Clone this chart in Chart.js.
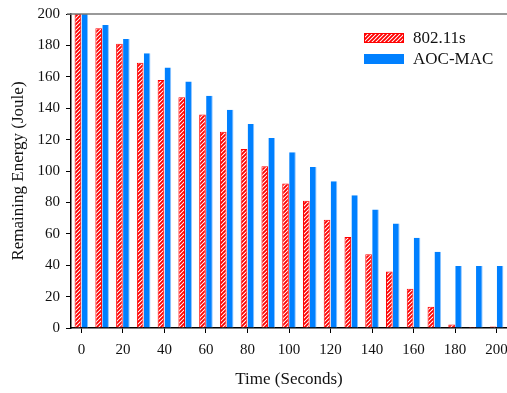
<!DOCTYPE html>
<html>
<head>
<meta charset="utf-8">
<script src="https://cdn.jsdelivr.net/npm/chart.js@4/dist/chart.umd.min.js"></script>
<style>
    html, body { margin: 0; padding: 0; background: #ffffff; }
    #wrap { width: 507px; height: 393px; position: relative; }
</style>
</head>
<body>
<div id="wrap"><canvas id="chart"></canvas></div>
<script>
// Time axis categories (seconds)
const timeLabels = [ '0', '10', '20', '30', '40', '50', '60', '70', '80', '90', '100',
    '110', '120', '130', '140', '150', '160', '170', '180', '190', '200' ];

// Remaining energy (Joule) per protocol
const energy80211s = [ 200, 191, 181, 169, 158, 147, 136, 125, 114, 103, 92,
    81, 69, 58, 47, 36, 25, 13.5, 2.3, 0.6, 1 ];
const energyAocMac = [ 200, 193, 184, 175, 166, 157, 148, 139, 130, 121, 112,
    102.5, 93.5, 84.5, 75.5, 66.5, 57.5, 48.5, 39.5, 39.5, 39.5 ];

const seriesNames = [ '802.11s', 'AOC-MAC' ];

const serif = "'Liberation Serif', 'Times New Roman', serif";
const blue = '#0080ff';
const red = '#ff0000';

// Red diagonal hatch fill
function makeHatch ()
{
    const c = document.createElement( 'canvas' );
    c.width = 4;
    c.height = 4;
    const g = c.getContext( '2d' );
    g.fillStyle = '#ffffff';
    g.fillRect( 0, 0, 4, 4 );
    g.strokeStyle = red;
    g.lineWidth = 1.9;
    g.beginPath();
    g.moveTo( -1, 5 ); g.lineTo( 5, -1 );
    g.moveTo( -1, 1 ); g.lineTo( 1, -1 );
    g.moveTo( 3, 5 ); g.lineTo( 5, 3 );
    g.stroke();
    return g.createPattern( c, 'repeat' );
}
const hatch = makeHatch();

// Frame line on top + legend inside plot area
const framePlugin = {
    id: 'frame',
    afterDraw ( chart )
    {
        const ctx = chart.ctx;
        const area = chart.chartArea;
        ctx.save();
        ctx.strokeStyle = '#777777';
        ctx.lineWidth = 1.5;
        ctx.beginPath();
        ctx.moveTo( area.left - 4, area.top );
        ctx.lineTo( chart.width, area.top );
        ctx.stroke();

        // legend
        const fills = [ hatch, blue ];
        const rows = [ 38, 59 ];
        ctx.font = '17px ' + serif;
        ctx.textBaseline = 'middle';
        for ( let i = 0; i < seriesNames.length; i++ )
        {
            const y = rows[ i ];
            ctx.fillStyle = fills[ i ];
            ctx.fillRect( 364, y - 5, 40, 10 );
            if ( i === 0 )
            {
                ctx.strokeStyle = red;
                ctx.lineWidth = 1;
                ctx.strokeRect( 364.5, y - 4.5, 39, 9 );
            }
            ctx.fillStyle = '#111111';
            ctx.fillText( seriesNames[ i ], 413, y + 1 );
        }
        ctx.restore();
    }
};

new Chart( document.getElementById( 'chart' ), {
    type: 'bar',
    data: {
        labels: timeLabels,
        datasets: [
            {
                label: seriesNames[ 0 ],
                data: energy80211s,
                backgroundColor: hatch,
                borderColor: red,
                borderWidth: 1,
                categoryPercentage: 0.67,
                barPercentage: 0.95
            },
            {
                label: seriesNames[ 1 ],
                data: energyAocMac,
                backgroundColor: blue,
                borderColor: '#8cc4ff',
                borderWidth: { left: 0, top: 0, bottom: 0, right: 1 },
                categoryPercentage: 0.67,
                barPercentage: 0.95
            }
        ]
    },
    options: {
        responsive: true,
        maintainAspectRatio: false,
        animation: false,
        layout: { padding: { top: 14, right: 0, left: 0, bottom: 0 } },
        plugins: {
            legend: { display: false },
            tooltip: { enabled: false }
        },
        scales: {
            x: {
                afterFit: ( scale ) =>
                {
                    scale.height = 65;
                    scale.paddingLeft = 0;
                    scale.paddingRight = 0;
                },
                grid: {
                    offset: false,
                    drawOnChartArea: false,
                    tickLength: 5,
                    tickColor: ( c ) => c.index % 2 === 0 ? '#000000' : 'rgba(0,0,0,0)'
                },
                border: { display: true, color: '#000000', width: 1.5 },
                ticks: {
                    autoSkip: false,
                    maxRotation: 0,
                    padding: 8,
                    color: '#111111',
                    font: { family: serif, size: 15 },
                    callback: function ( value, index )
                    {
                        return index % 2 === 0 ? this.getLabelForValue( value ) : '';
                    }
                },
                title: {
                    display: true,
                    text: 'Time (Seconds)',
                    color: '#111111',
                    font: { family: serif, size: 17 },
                    padding: { top: 4, bottom: 3 }
                }
            },
            y: {
                min: 0,
                max: 200,
                afterFit: ( scale ) =>
                {
                    scale.width = 71;
                    scale.paddingTop = 0;
                    scale.paddingBottom = 0;
                },
                grid: {
                    drawOnChartArea: false,
                    tickLength: 5,
                    tickColor: '#000000'
                },
                border: { display: true, color: '#000000', width: 1.5 },
                ticks: {
                    stepSize: 20,
                    padding: 6,
                    color: '#111111',
                    font: { family: serif, size: 15 }
                },
                title: {
                    display: true,
                    text: 'Remaining Energy (Joule)',
                    color: '#111111',
                    font: { family: serif, size: 17 },
                    padding: { top: 8, bottom: 4 }
                }
            }
        }
    },
    plugins: [ framePlugin ]
} );
</script>
</body>
</html>
